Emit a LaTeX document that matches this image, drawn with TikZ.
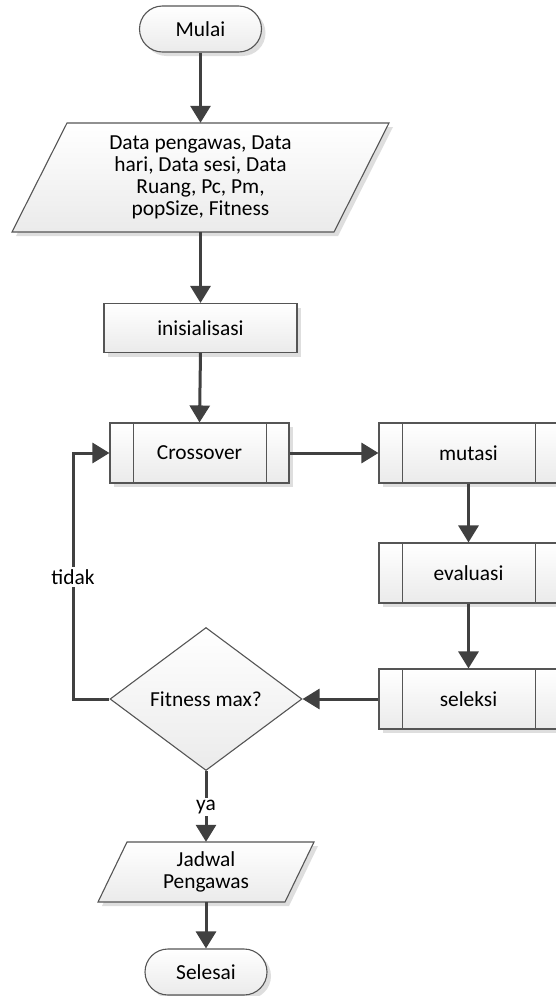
\documentclass[tikz,border=0pt]{standalone}
\usepackage{fontspec}
\setmainfont{Carlito}
\usetikzlibrary{arrows.meta,shadows,shapes.geometric}
\definecolor{linec}{HTML}{404040}
\definecolor{edgec}{HTML}{555555}
\definecolor{shadowc}{HTML}{DEDEDE}
\tikzset{
  shapefill/.style={top color=white, bottom color=black!8, draw=edgec, line width=1.1pt},
  shadowed/.style={drop shadow={shadow xshift=4pt, shadow yshift=-4pt, fill=shadowc, opacity=1}},
  txt/.style={font=\fontsize{21.4}{21.8}\selectfont, align=center, text=black},
  procbox/.style={shapefill, shadowed, txt, rectangle, inner sep=0pt, minimum width=179pt, minimum height=60pt},
  termbox/.style={shapefill, shadowed, txt, rectangle, rounded corners=23pt, inner sep=0pt, minimum width=122pt, minimum height=46pt},
  iobox/.style={txt, inner sep=0pt},
  decbox/.style={shapefill, txt, diamond, inner sep=0pt, minimum width=192pt, minimum height=143pt},
  flow/.style={draw=linec, line width=3pt, -{Triangle[length=17pt,width=20pt]}},
  lbl/.style={txt, fill=white, inner sep=2pt}
}
\begin{document}
\begin{tikzpicture}[x=1pt, y=-1pt]
\useasboundingbox (0,0) rectangle (555,996);

% start
\node[termbox] (start) at (200.5,29) {Mulai};

% input data (parallelogram)
\path[shapefill, shadowed] (67,123) -- (389,123) -- (334,232) -- (12,232) -- cycle;
\node[iobox, minimum height=109pt, minimum width=260pt] (data) at (200.5,177.5)
  {Data pengawas, Data\\hari, Data sesi, Data\\Ruang, Pc, Pm,\\popSize, Fitness};

% initialisation
\node[procbox, minimum width=193pt, minimum height=49pt] (init) at (200.5,328) {inisialisasi};

% predefined processes
\node[procbox] (cross) at (199.5,453) {Crossover};
\node[procbox] (mut) at (468.5,453) {mutasi};
\node[procbox] (eva) at (468.5,573) {evaluasi};
\node[procbox] (sel) at (468.5,699) {seleksi};
\foreach \n in {cross,mut,eva,sel}{
  \draw[edgec, line width=1.1pt] ([xshift=24pt]\n.north west) -- ([xshift=24pt]\n.south west);
  \draw[edgec, line width=1.1pt] ([xshift=-23pt]\n.north east) -- ([xshift=-23pt]\n.south east);
}

% decision
\node[decbox] (dec) at (206,699) {Fitness max?};

% output (parallelogram)
\path[shapefill, shadowed] (127,842) -- (314,842) -- (285,902) -- (98,902) -- cycle;
\node[iobox, minimum height=60pt, minimum width=150pt] (out) at (206,872) {Jadwal\\Pengawas};

% end
\node[termbox] (stop) at (206,972) {Selesai};

% connectors
\coordinate (loopx) at (73,0);
\draw[flow] (start.south) -- (data.north);
\draw[flow] (data.south) -- (init.north);
\draw[flow] (init.south) -- (cross.north);
\draw[flow] (cross.east) -- (mut.west);
\draw[flow] (mut.south) -- (eva.north);
\draw[flow] (eva.south) -- (sel.north);
\draw[flow] (sel.west) -- (dec.east);
\draw[flow] (dec.west) -- (dec.west -| loopx) -- (cross.west -| loopx) -- (cross.west);
\draw[flow] (dec.south) -- (out.north);
\draw[flow] (out.south) -- (stop.north);

% branch labels
\node[lbl] (no) at (73,577) {tidak};
\node[lbl] (yes) at (206,807) {ya};
\end{tikzpicture}
\end{document}
